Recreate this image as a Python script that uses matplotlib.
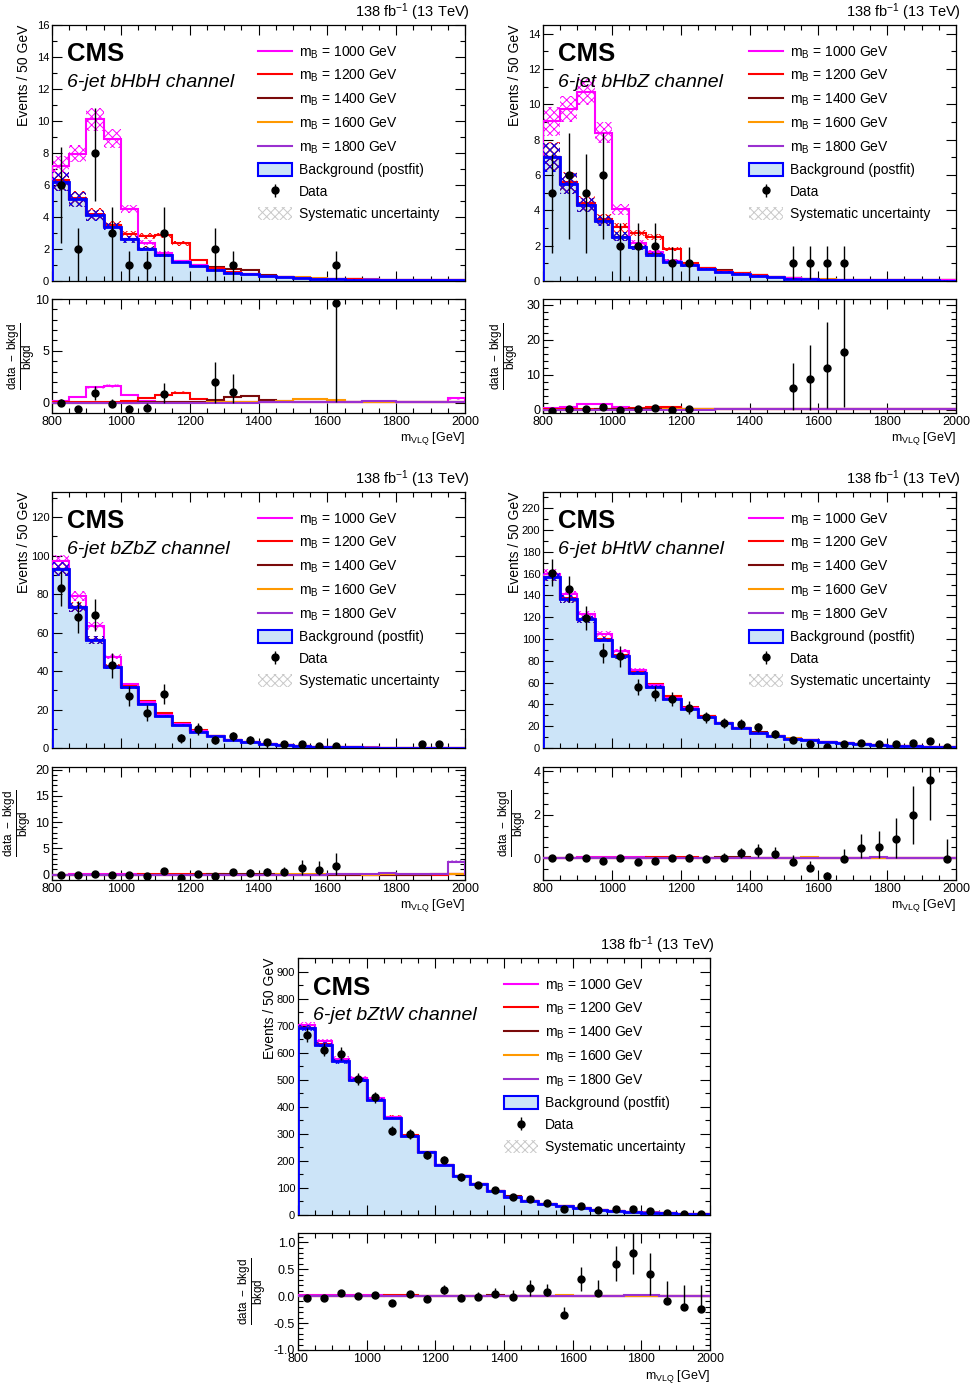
import numpy as np
import matplotlib
matplotlib.use('Agg')
import matplotlib.pyplot as plt
from matplotlib.ticker import MultipleLocator, NullFormatter
from matplotlib.lines import Line2D
from matplotlib.patches import Patch

plt.rcParams['font.family'] = ['Liberation Sans', 'DejaVu Sans']
plt.rcParams['mathtext.fontset'] = 'custom'
plt.rcParams['mathtext.rm'] = 'Liberation Sans'
plt.rcParams['mathtext.it'] = 'Liberation Sans:italic'
plt.rcParams['mathtext.bf'] = 'Liberation Sans:bold'
plt.rcParams['axes.unicode_minus'] = False
plt.rcParams['hatch.linewidth'] = 0.7

############
### Data ###
############

mvlqEdges = np.arange(800, 2001, 50)
massLabels = ['1000', '1200', '1400', '1600', '1800']
massColors = ['#ff00ff', '#ff0000', '#7a0a0a', '#ff9900', '#9a30d0']
sigRelUnc = 0.1

# 6-jet bHbH
bhbhBkgd = [6.2, 5.1, 4.1, 3.4, 2.6, 2.0, 1.6, 1.2, 0.95, 0.67, 0.5, 0.42, 0.3, 0.24, 0.19, 0.14, 0.094, 0.09, 0.08, 0.07, 0.06, 0.05, 0.045, 0.04]
bhbhBkgdUnc = [0.6, 0.45, 0.35, 0.22, 0.2, 0.15, 0.1, 0.08, 0.06, 0.05, 0.04, 0.03, 0.025, 0.02, 0.015, 0.012, 0.01, 0.008, 0.007, 0.006, 0.005, 0.005, 0.004, 0.004]
bhbhData = [6, 2, 8, 3, 1, 1, 3, 0, 0, 2, 1, 0, 0, 0, 0, 0, 1, 0, 0, 0, 0, 0, 0, 0]
bhbhDataLo = [3.6, 2, 3, 3, 1, 1, 3, 0, 0, 2, 1, 0, 0, 0, 0, 0, 0.9, 0, 0, 0, 0, 0, 0, 0]
bhbhDataHi = [2.4, 1.3, 2.8, 1.65, 0.9, 0.9, 1.65, 0, 0, 1.3, 0.9, 0, 0, 0, 0, 0, 0.9, 0, 0, 0, 0, 0, 0, 0]
bhbhSignal = [
  [1.0, 2.85, 6.0, 5.5, 1.9, 0.4, 0.15, 0.05, 0.03, 0.02, 0.01, 0.01, 0.005, 0.005, 0.004, 0.003, 0.003, 0.003, 0.003, 0.003, 0.003, 0.003, 0.003, 0.016],
  [0.1, 0.1, 0.1, 0.12, 0.35, 0.8, 1.25, 1.15, 0.35, 0.12, 0.05, 0.03, 0.02, 0.01, 0.008, 0.006, 0.005, 0.004, 0.004, 0.003, 0.003, 0.003, 0.002, 0.002],
  [0.01, 0.01, 0.01, 0.01, 0.02, 0.03, 0.04, 0.05, 0.07, 0.2, 0.28, 0.25, 0.09, 0.03, 0.02, 0.01, 0.008, 0.005, 0.005, 0.004, 0.003, 0.003, 0.002, 0.002],
  [0.005, 0.005, 0.005, 0.005, 0.005, 0.005, 0.005, 0.006, 0.008, 0.01, 0.012, 0.015, 0.02, 0.04, 0.06, 0.045, 0.02, 0.008, 0.005, 0.004, 0.004, 0.003, 0.003, 0.003],
  [0.002, 0.002, 0.002, 0.002, 0.002, 0.002, 0.002, 0.002, 0.002, 0.003, 0.003, 0.003, 0.004, 0.004, 0.005, 0.005, 0.006, 0.008, 0.016, 0.014, 0.006, 0.004, 0.003, 0.003],
]

# 6-jet bHbZ
bhbzBkgd = [7.0, 5.5, 4.3, 3.4, 2.5, 1.9, 1.5, 1.1, 0.9, 0.66, 0.5, 0.4, 0.3, 0.22, 0.139, 0.103, 0.077, 0.057, 0.05, 0.045, 0.04, 0.035, 0.03, 0.028]
bhbzBkgdUnc = [0.8, 0.6, 0.4, 0.3, 0.25, 0.15, 0.12, 0.1, 0.08, 0.06, 0.05, 0.04, 0.03, 0.02, 0.015, 0.01, 0.008, 0.006, 0.005, 0.005, 0.004, 0.004, 0.003, 0.003]
bhbzData = [5, 6, 5, 6, 2, 2, 2, 1, 1, 0, 0, 0, 0, 0, 1, 1, 1, 1, 0, 0, 0, 0, 0, 0]
bhbzDataLo = [3.4, 3.6, 3.4, 3.6, 2, 2, 2, 1, 1, 0, 0, 0, 0, 0, 0.9, 0.9, 0.9, 0.9, 0, 0, 0, 0, 0, 0]
bhbzDataHi = [2.2, 2.4, 2.2, 2.4, 1.3, 1.3, 1.3, 0.9, 0.9, 0, 0, 0, 0, 0, 1.0, 1.0, 1.0, 1.0, 0, 0, 0, 0, 0, 0]
bhbzSignal = [
  [2.05, 4.25, 6.4, 5.0, 1.55, 0.25, 0.15, 0.05, 0.03, 0.02, 0.01, 0.01, 0.005, 0.005, 0.004, 0.003, 0.003, 0.003, 0.003, 0.003, 0.003, 0.003, 0.003, 0.003],
  [0.05, 0.1, 0.1, 0.1, 0.55, 0.8, 1.0, 0.7, 0.12, 0.09, 0.08, 0.03, 0.02, 0.01, 0.008, 0.006, 0.005, 0.004, 0.003, 0.003, 0.003, 0.002, 0.002, 0.002],
  [0.01, 0.01, 0.01, 0.02, 0.02, 0.03, 0.03, 0.04, 0.05, 0.09, 0.1, 0.08, 0.04, 0.02, 0.01, 0.008, 0.006, 0.005, 0.004, 0.003, 0.003, 0.002, 0.002, 0.002],
  [0.004, 0.004, 0.004, 0.004, 0.005, 0.005, 0.005, 0.006, 0.008, 0.01, 0.01, 0.012, 0.015, 0.02, 0.03, 0.025, 0.015, 0.006, 0.004, 0.003, 0.003, 0.002, 0.002, 0.002],
  [0.002, 0.002, 0.002, 0.002, 0.002, 0.002, 0.002, 0.002, 0.002, 0.002, 0.003, 0.003, 0.003, 0.004, 0.004, 0.005, 0.005, 0.008, 0.012, 0.01, 0.006, 0.004, 0.003, 0.002],
]

# 6-jet bZbZ
bzbzBkgd = [93, 73, 56, 42, 31.5, 23, 16.7, 12, 8.5, 6.0, 4.0, 2.9, 2.0, 1.35, 0.87, 0.55, 0.38, 0.3, 0.22, 0.16, 0.12, 0.09, 0.08, 0.06]
bzbzBkgdUnc = [3.5, 2.5, 2.0, 1.2, 0.9, 0.6, 0.45, 0.35, 0.25, 0.18, 0.12, 0.09, 0.06, 0.04, 0.03, 0.02, 0.015, 0.012, 0.01, 0.008, 0.007, 0.006, 0.005, 0.004]
bzbzData = [83, 68, 69, 43, 27, 18, 28, 5, 10, 4, 6, 4, 3, 2, 2, 1, 1, 0, 0, 0, 0, 2, 2, 0]
bzbzDataLo = [9.1, 8.2, 8.3, 6.6, 5.2, 4.2, 5.3, 2.2, 3.2, 2, 2.4, 2, 3, 2, 2, 1, 1, 0, 0, 0, 0, 2, 2, 0]
bzbzDataHi = [9.1, 8.2, 8.3, 6.6, 5.2, 4.2, 5.3, 2.2, 3.2, 2, 2.4, 2, 1.65, 1.3, 1.3, 0.95, 0.95, 0, 0, 0, 0, 1.3, 1.3, 0]
bzbzSignal = [
  [4.0, 6.0, 7.5, 5.5, 1.5, 1.0, 0.5, 0.3, 0.2, 0.1, 0.05, 0.04, 0.03, 0.02, 0.01, 0.01, 0.005, 0.005, 0.005, 0.004, 0.004, 0.003, 0.003, 0.003],
  [0.2, 0.2, 0.3, 0.4, 1.2, 1.3, 1.3, 1.0, 0.6, 0.3, 0.15, 0.08, 0.05, 0.03, 0.02, 0.01, 0.01, 0.005, 0.005, 0.004, 0.004, 0.003, 0.003, 0.003],
  [0.05, 0.05, 0.05, 0.05, 0.05, 0.05, 0.06, 0.08, 0.1, 0.3, 0.35, 0.3, 0.15, 0.05, 0.03, 0.01, 0.01, 0.01, 0.01, 0.005, 0.005, 0.004, 0.004, 0.003],
  [0.01, 0.01, 0.01, 0.01, 0.01, 0.01, 0.01, 0.01, 0.02, 0.02, 0.03, 0.04, 0.05, 0.1, 0.12, 0.08, 0.04, 0.02, 0.01, 0.008, 0.006, 0.005, 0.004, 0.006],
  [0.005, 0.005, 0.005, 0.005, 0.005, 0.005, 0.005, 0.005, 0.005, 0.006, 0.006, 0.008, 0.01, 0.01, 0.015, 0.02, 0.025, 0.03, 0.05, 0.04, 0.02, 0.01, 0.01, 0.15],
]

# 6-jet bHtW
bhtwBkgd = [157, 137, 118, 99.5, 84, 69, 56, 45, 36, 28.5, 22.5, 18, 14, 11, 8.5, 7.0, 5.5, 4.2, 3.4, 2.67, 2.1, 1.67, 1.3, 1.05]
bhtwBkgdUnc = [4, 3.5, 3, 2.5, 2, 1.7, 1.4, 1.1, 0.9, 0.7, 0.55, 0.45, 0.35, 0.28, 0.22, 0.18, 0.14, 0.11, 0.09, 0.07, 0.06, 0.05, 0.04, 0.03]
bhtwData = [161, 146, 119, 87, 84, 56, 50, 45, 37, 28, 23, 22, 19, 13, 7, 4, 1, 4, 5, 4, 4, 5, 6, 1]
bhtwDataErr = [12.7, 12.1, 10.9, 9.3, 9.2, 7.5, 7.1, 6.7, 6.1, 5.3, 4.8, 4.7, 4.4, 3.6, 2.6, 2.1, 1.1, 2.0, 2.2, 2.0, 2.0, 2.2, 2.4, 1.0]
bhtwSignal = [
  [3, 4, 5, 5.5, 5, 3, 1.5, 1, 0.5, 0.3, 0.2, 0.1, 0.08, 0.05, 0.04, 0.03, 0.02, 0.02, 0.01, 0.01, 0.01, 0.01, 0.01, 0.01],
  [0.3, 0.3, 0.4, 0.6, 1.0, 2.0, 2.5, 2.5, 1.5, 0.8, 0.4, 0.2, 0.1, 0.05, 0.04, 0.03, 0.02, 0.02, 0.01, 0.01, 0.01, 0.01, 0.01, 0.01],
  [0.05, 0.05, 0.05, 0.05, 0.05, 0.05, 0.05, 0.05, 0.2, 0.5, 0.8, 0.7, 0.4, 0.15, 0.08, 0.04, 0.02, 0.01, 0.01, 0.01, 0.01, 0.01, 0.01, 0.01],
  [0.02, 0.02, 0.02, 0.02, 0.02, 0.02, 0.02, 0.02, 0.02, 0.02, 0.02, 0.02, 0.05, 0.15, 0.25, 0.25, 0.15, 0.06, 0.03, 0.02, 0.01, 0.01, 0.01, 0.01],
  [0.01, 0.01, 0.01, 0.01, 0.01, 0.01, 0.01, 0.01, 0.01, 0.01, 0.01, 0.01, 0.01, 0.01, 0.01, 0.01, 0.03, 0.06, 0.1, 0.1, 0.06, 0.03, 0.02, 0.02],
]

# 6-jet bZtW
bztwBkgd = [692, 630, 568, 499, 426, 359, 291, 232, 183, 145, 113, 88, 68, 52, 42, 32, 25, 19, 15, 11.7, 9.2, 6.6, 5.0, 3.9]
bztwBkgdUnc = [10, 9, 8, 7, 6, 5, 4, 3.3, 2.6, 2, 1.6, 1.3, 1.0, 0.8, 0.6, 0.5, 0.4, 0.3, 0.25, 0.2, 0.15, 0.12, 0.1, 0.08]
bztwData = [664, 611, 596, 504, 435, 312, 300, 220, 205, 139, 112, 92, 67, 60, 45, 21, 33, 20, 24, 21, 13, 6, 4, 3]
bztwDataErr = [25.8, 24.7, 24.4, 22.4, 20.9, 17.7, 17.3, 14.8, 14.3, 11.8, 10.6, 9.6, 8.2, 7.7, 6.7, 4.6, 5.7, 4.5, 4.9, 4.6, 3.6, 2.4, 2.0, 1.7]
bztwSignal = [
  [10, 12, 10, 8, 5, 3, 2, 1, 0.6, 0.4, 0.3, 0.2, 0.15, 0.1, 0.08, 0.06, 0.05, 0.04, 0.03, 0.03, 0.02, 0.02, 0.02, 0.02],
  [0.5, 0.5, 1, 2, 3, 4, 3.5, 2.5, 1.5, 0.8, 0.4, 0.3, 0.2, 0.1, 0.08, 0.06, 0.05, 0.04, 0.03, 0.03, 0.02, 0.02, 0.02, 0.02],
  [0.1, 0.1, 0.1, 0.1, 0.1, 0.1, 0.1, 0.1, 0.4, 0.8, 1.2, 1.0, 0.6, 0.3, 0.15, 0.08, 0.05, 0.03, 0.02, 0.02, 0.02, 0.01, 0.01, 0.01],
  [0.05, 0.05, 0.05, 0.05, 0.05, 0.05, 0.05, 0.05, 0.05, 0.05, 0.05, 0.05, 0.1, 0.25, 0.4, 0.4, 0.25, 0.1, 0.05, 0.03, 0.02, 0.02, 0.01, 0.01],
  [0.02, 0.02, 0.02, 0.02, 0.02, 0.02, 0.02, 0.02, 0.02, 0.02, 0.02, 0.02, 0.02, 0.02, 0.02, 0.02, 0.05, 0.1, 0.15, 0.15, 0.1, 0.05, 0.03, 0.02],
]

#############
### Style ###
#############

bkgdColor = '#0000ff'
bkgdFill = '#cce4f8'
hatchStyle = 'xxxx'
figW, figH = 972, 1383

def pixRect(x0, y0, x1, y1):
  return [x0 / figW, 1 - y1 / figH, (x1 - x0) / figW, (y1 - y0) / figH]

def stepExt(values):
  return np.append(values, values[-1])

def styleAxis(ax, yMajor, yMinor, tickSize):
  ax.set_xlim(800, 2000)
  ax.xaxis.set_major_locator(MultipleLocator(200))
  ax.xaxis.set_minor_locator(MultipleLocator(50))
  ax.yaxis.set_major_locator(MultipleLocator(yMajor))
  ax.yaxis.set_minor_locator(MultipleLocator(yMinor))
  ax.tick_params(which='both', direction='in', top=True, right=True, labelsize=tickSize, pad=2)
  ax.tick_params(which='major', length=7, width=0.8)
  ax.tick_params(which='minor', length=3.5, width=0.8)
  for sp in ax.spines.values():
    sp.set_linewidth(0.9)

###############
### Drawing ###
###############

fig = plt.figure(figsize=(figW / 100, figH / 100), dpi=100)
centers = 0.5 * (mvlqEdges[:-1] + mvlqEdges[1:])

def drawChannel(mainBox, ratioBox, channel, bkgd, bkgdUnc, data, dataLo, dataHi, signals,
                mainMax, mainMajor, mainMinor, ratioLim, ratioMajor, ratioMinor, ratioLabelX):
  bkgd = np.array(bkgd, dtype=float)
  bkgdUnc = np.array(bkgdUnc, dtype=float)
  data = np.array(data, dtype=float)
  dataLo = np.array(dataLo, dtype=float)
  dataHi = np.array(dataHi, dtype=float)

  # Main panel
  ax = fig.add_axes(pixRect(*mainBox))
  ax.stairs(bkgd, mvlqEdges, fill=True, color=bkgdFill, linewidth=0, zorder=1)
  for sig, color in reversed(list(zip(signals, massColors))):
    sig = np.array(sig, dtype=float)
    total = bkgd + sig
    unc = np.sqrt(bkgdUnc ** 2 + (sigRelUnc * sig) ** 2)
    ax.fill_between(mvlqEdges, stepExt(total - unc), stepExt(total + unc), step='post',
                    facecolor='none', edgecolor=color, hatch=hatchStyle, linewidth=0, zorder=2)
    ax.stairs(total, mvlqEdges, color=color, linewidth=1.5, zorder=3)
  ax.fill_between(mvlqEdges, stepExt(bkgd - bkgdUnc), stepExt(bkgd + bkgdUnc), step='post',
                  facecolor='none', edgecolor=bkgdColor, hatch=hatchStyle, linewidth=0, zorder=4)
  ax.stairs(bkgd, mvlqEdges, color=bkgdColor, linewidth=2.0, zorder=4)

  show = data > 0
  dataHandle = ax.errorbar(centers[show], data[show], yerr=[dataLo[show], dataHi[show]], fmt='o',
                           color='k', ms=5, elinewidth=1, capsize=0, zorder=6)

  ax.set_ylim(0, mainMax)
  styleAxis(ax, mainMajor, mainMinor, 8)
  ax.xaxis.set_major_formatter(NullFormatter())
  ax.set_ylabel('Events / 50 GeV', fontsize=10, loc='top')
  ax.yaxis.set_label_coords(-0.05, 1.0)

  ax.text(0.036, 0.885, 'CMS', transform=ax.transAxes, fontsize=18.5, fontweight='bold', va='center')
  ax.text(0.036, 0.775, channel, transform=ax.transAxes, fontsize=14, fontstyle='italic', va='center')
  ax.text(1.012, 1.008, r'138 fb$^{-1}$ (13 TeV)', transform=ax.transAxes, fontsize=10.5,
          ha='right', va='bottom')

  handles = [Line2D([], [], color=c, linewidth=1.5) for c in massColors]
  handles.append(Patch(facecolor=bkgdFill, edgecolor=bkgdColor, linewidth=1.5))
  handles.append(dataHandle)
  handles.append(Patch(facecolor='white', edgecolor='#c8c8c8', hatch=hatchStyle, linewidth=0))
  labels = [r'm$_{\mathrm{B}}$ = ' + m + ' GeV' for m in massLabels]
  labels += ['Background (postfit)', 'Data', 'Systematic uncertainty']
  ax.legend(handles, labels, loc='upper left', bbox_to_anchor=(0.499, 0.925), frameon=False,
            fontsize=10, handlelength=2.45, handleheight=1.1, handletextpad=0.5,
            labelspacing=0.53, borderpad=0, borderaxespad=0)

  # Ratio panel
  rx = fig.add_axes(pixRect(*ratioBox))
  for sig, color in reversed(list(zip(signals, massColors))):
    sig = np.array(sig, dtype=float)
    unc = np.sqrt(bkgdUnc ** 2 + (sigRelUnc * sig) ** 2)
    rx.fill_between(mvlqEdges, stepExt((sig - unc) / bkgd), stepExt((sig + unc) / bkgd), step='post',
                    facecolor='none', edgecolor=color, hatch=hatchStyle, linewidth=0, alpha=0.6, zorder=2)
  for sig, color in zip(signals, massColors):
    sig = np.array(sig, dtype=float)
    rx.stairs(sig / bkgd, mvlqEdges, color=color, linewidth=1.5, zorder=3)

  ratio = (data - bkgd) / bkgd
  ratioLoEnd = np.where(ratio > 0, np.maximum(ratio - dataLo / bkgd, 0), ratio)
  inside = show & (ratio >= ratioLim[0]) & (ratio <= ratioLim[1])
  rx.errorbar(centers[inside], ratio[inside],
              yerr=[(ratio - ratioLoEnd)[inside], (dataHi / bkgd)[inside]], fmt='o',
              color='k', ms=5, elinewidth=1, capsize=0, zorder=6)

  rx.set_ylim(*ratioLim)
  styleAxis(rx, ratioMajor, ratioMinor, 9)
  rx.set_ylabel(r'$\dfrac{\mathrm{data\ -\ bkgd}}{\mathrm{bkgd}}$', fontsize=8.5)
  rx.yaxis.set_label_coords(ratioLabelX, 0.5)
  rx.set_xlabel(r'm$_{\mathrm{VLQ}}$ [GeV]', fontsize=9, loc='right')
  rx.xaxis.set_label_coords(1.0, -0.15)


drawChannel((52, 25, 465, 281), (52, 299, 465, 413), '6-jet bHbH channel',
            bhbhBkgd, bhbhBkgdUnc, bhbhData, bhbhDataLo, bhbhDataHi, bhbhSignal,
            16, 2, 1, (-1, 10), 5, 1, -0.036)
drawChannel((543, 25, 956, 281), (543, 299, 956, 413), '6-jet bHbZ channel',
            bhbzBkgd, bhbzBkgdUnc, bhbzData, bhbzDataLo, bhbzDataHi, bhbzSignal,
            14.5, 2, 1, (-1, 31.7), 10, 2, -0.056)
drawChannel((52, 492, 465, 748), (52, 767, 465, 880), '6-jet bZbZ channel',
            bzbzBkgd, bzbzBkgdUnc, bzbzData, bzbzDataLo, bzbzDataHi, bzbzSignal,
            133, 20, 10, (-1, 20.5), 5, 1, -0.045)
drawChannel((543, 492, 956, 748), (543, 767, 956, 880), '6-jet bHtW channel',
            bhtwBkgd, bhtwBkgdUnc, bhtwData, bhtwDataErr, bhtwDataErr, bhtwSignal,
            235, 20, 10, (-1, 4.2), 2, 0.5, -0.036)
drawChannel((298, 958, 710, 1215), (298, 1233, 710, 1350), '6-jet bZtW channel',
            bztwBkgd, bztwBkgdUnc, bztwData, bztwDataErr, bztwDataErr, bztwSignal,
            950, 100, 50, (-1, 1.17), 0.5, 0.1, -0.072)

fig.savefig('out.png', dpi=100)
